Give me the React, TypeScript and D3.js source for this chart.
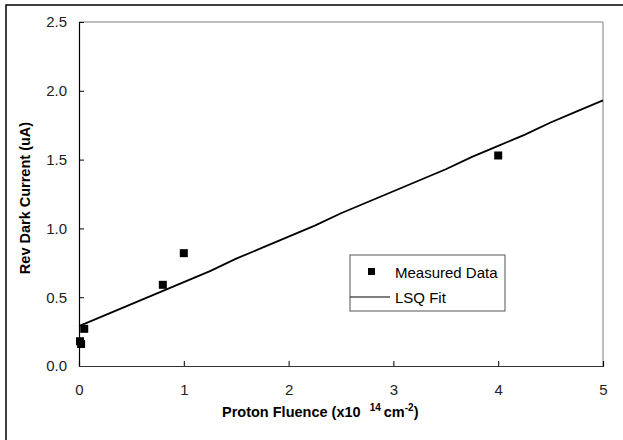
import React, { useEffect, useRef } from 'react';
import * as d3 from 'd3';

// measured points (fluence x1e14 cm^-2, reverse dark current uA)
const measuredX = [0.01, 0.02, 0.05, 0.8, 1.0, 4.0];
const measuredY = [0.18, 0.16, 0.27, 0.59, 0.82, 1.53];

// least squares fit
const fitX = [0, 0.25, 0.5, 0.75, 1, 1.25, 1.5, 1.75, 2, 2.25, 2.5, 2.75, 3, 3.25, 3.5, 3.75, 4, 4.25, 4.5, 4.75, 5];
const fitY = [0.29, 0.37, 0.45, 0.53, 0.61, 0.69, 0.78, 0.86, 0.94, 1.02, 1.11, 1.19, 1.27, 1.35, 1.43, 1.52, 1.60, 1.68, 1.77, 1.85, 1.93];

const xTicks = [0, 1, 2, 3, 4, 5];
const yTicks = [0, 0.5, 1.0, 1.5, 2.0, 2.5];

const App = () => {
  const ref = useRef<SVGSVGElement>(null);

  useEffect(() => {
    const svg = d3.select(ref.current);
    svg.selectAll('*').remove();

    const left = 79, right = 603, top = 22, bottom = 366;
    const font = '"Liberation Sans", Arial, sans-serif';

    const x = d3.scaleLinear().domain([0, 5]).range([left, right]);
    const y = d3.scaleLinear().domain([0, 2.5]).range([bottom, top]);

    // outer frame (clipped at right/bottom)
    svg.append('rect')
      .attr('x', 6).attr('y', 5).attr('width', 640).attr('height', 460)
      .attr('fill', 'none').attr('stroke', '#000').attr('stroke-width', 1.5);

    // plot frame: gray top and right
    svg.append('path')
      .attr('d', `M${left},${top}H${right}V${bottom}`)
      .attr('fill', 'none').attr('stroke', '#808080').attr('stroke-width', 1);

    // y axis
    const yAxis = svg.append('g')
      .attr('transform', `translate(${left},0)`)
      .call(d3.axisRight(y).tickValues(yTicks).tickSize(5).tickFormat(d3.format('.1f')));
    yAxis.select('.domain').attr('stroke', '#000').attr('stroke-width', 1.2);
    yAxis.selectAll('text')
      .attr('x', -12).attr('text-anchor', 'end')
      .style('font-family', font).style('font-size', '15px').attr('fill', '#222');

    // x axis
    const xAxis = svg.append('g')
      .attr('transform', `translate(0,${bottom})`)
      .call(d3.axisTop(x).tickValues(xTicks).tickSize(5).tickFormat(d3.format('d')));
    xAxis.select('.domain').attr('stroke', '#333').attr('stroke-width', 1.2);
    xAxis.selectAll('text')
      .attr('y', 29).attr('dy', 0)
      .style('font-family', font).style('font-size', '15px').attr('fill', '#222');

    // fit line
    const pts = fitX.map((d, i) => [d, fitY[i]] as [number, number]);
    svg.append('path')
      .datum(pts)
      .attr('fill', 'none')
      .attr('stroke', '#000')
      .attr('stroke-width', 1.8)
      .attr('d', d3.line().x(d => x(d[0])).y(d => y(d[1])));

    // measured squares
    svg.selectAll('rect.pt')
      .data(measuredX.map((d, i) => [d, measuredY[i]]))
      .enter()
      .append('rect')
      .attr('class', 'pt')
      .attr('x', d => x(d[0]) - 4)
      .attr('y', d => y(d[1]) - 4)
      .attr('width', 8).attr('height', 8)
      .attr('fill', '#000');

    // legend
    const legend = svg.append('g');
    legend.append('rect')
      .attr('x', 350).attr('y', 255).attr('width', 155).attr('height', 56)
      .attr('fill', '#fff').attr('stroke', '#555').attr('stroke-width', 1);
    legend.append('rect')
      .attr('x', 368).attr('y', 268).attr('width', 7).attr('height', 7).attr('fill', '#000');
    legend.append('text')
      .attr('x', 395).attr('y', 278)
      .style('font-family', font).style('font-size', '15px')
      .text('Measured Data');
    legend.append('line')
      .attr('x1', 350).attr('x2', 390).attr('y1', 297).attr('y2', 297)
      .attr('stroke', '#000').attr('stroke-width', 1.2);
    legend.append('text')
      .attr('x', 395).attr('y', 303)
      .style('font-family', font).style('font-size', '15px')
      .text('LSQ Fit');

    // axis titles
    const xt = svg.append('text')
      .attr('x', 222).attr('y', 417)
      .style('font-family', font).style('font-size', '14.5px').style('font-weight', 'bold');
    xt.append('tspan').text('Proton Fluence (x10 ');
    xt.append('tspan').attr('dx', 5).attr('dy', -6).style('font-size', '10px').text('14');
    xt.append('tspan').attr('dx', 3).attr('dy', 6).text('cm');
    xt.append('tspan').attr('dy', -6).style('font-size', '10px').text('-2');
    xt.append('tspan').attr('dy', 6).text(')');

    svg.append('text')
      .attr('transform', `translate(30,${(top + bottom) / 2 + 4}) rotate(-90)`)
      .attr('text-anchor', 'middle')
      .style('font-family', font).style('font-size', '14.5px').style('font-weight', 'bold')
      .text('Rev Dark Current (uA)');
  }, []);

  return (
    <div style={{ position: 'fixed', left: 0, top: 0 }}>
      <svg ref={ref} width={623} height={440} style={{ display: 'block', background: '#fff' }} />
    </div>
  );
};

export default App;
